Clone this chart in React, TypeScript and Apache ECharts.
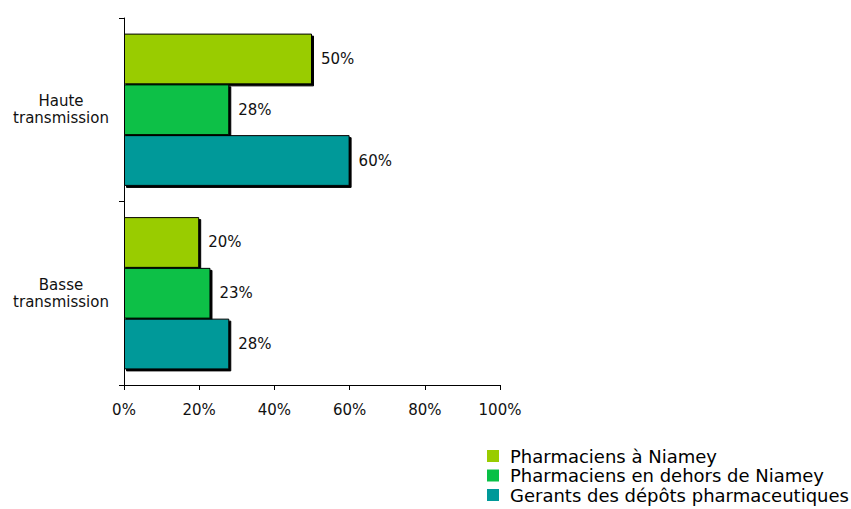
import React, { useEffect, useRef } from "react";
import * as echarts from "echarts";

const categories = ["Haute\ntransmission", "Basse\ntransmission"];
const seriesNames = [
  "Pharmaciens à Niamey",
  "Pharmaciens en dehors de Niamey",
  "Gerants des dépôts pharmaceutiques",
];
const pharmaNiamey = [50, 20];
const pharmaHors = [28, 23];
const gerants = [60, 28];
const xTicks = [0, 20, 40, 60, 80, 100];
const colors = ["#99CC00", "#08C046", "#009999"];

export default function App() {
  const ref = useRef<HTMLDivElement>(null);
  useEffect(() => {
    if (!ref.current) return;
    const chart = echarts.init(ref.current, null, { renderer: "svg" });
    const values = [pharmaNiamey, pharmaHors, gerants];
    const font = "'DejaVu Sans', sans-serif";
    chart.setOption({
      animation: false,
      textStyle: { fontFamily: font },
      grid: { left: 124, top: 18, width: 376, height: 367, containLabel: false },
      legend: {
        orient: "vertical",
        left: 487,
        top: 447,
        padding: 0,
        itemWidth: 12,
        itemHeight: 12,
        itemGap: 1.5,
        icon: "rect",
        itemStyle: { borderWidth: 0, shadowBlur: 0, shadowOffsetX: 0, shadowOffsetY: 0, shadowColor: "transparent" },
        textStyle: { fontSize: 18, lineHeight: 18, color: "#000", fontFamily: font, padding: [0, 0, 0, 6] },
        data: seriesNames,
      },
      xAxis: {
        type: "value",
        min: xTicks[0],
        max: xTicks[xTicks.length - 1],
        interval: 20,
        splitLine: { show: false },
        axisLine: { show: true, lineStyle: { color: "#000", width: 1 } },
        axisTick: { show: true, length: 5, lineStyle: { color: "#000" } },
        axisLabel: { formatter: "{value}%", color: "#111", fontSize: 15, margin: 17, fontFamily: font },
      },
      yAxis: {
        type: "category",
        inverse: true,
        data: categories,
        axisLine: { show: true, lineStyle: { color: "#000", width: 1 } },
        axisTick: { show: true, length: 5, lineStyle: { color: "#000" } },
        axisLabel: { color: "#111", fontSize: 15, margin: 63, lineHeight: 17, align: "center", fontFamily: font },
      },
      series: seriesNames.map((name, i) => ({
        name,
        type: "bar",
        data: values[i],
        barGap: "0%",
        barCategoryGap: "17%",
        itemStyle: {
          color: colors[i],
          borderColor: "#000",
          borderWidth: 1,
          shadowColor: "#000",
          shadowOffsetX: 2,
          shadowOffsetY: 2,
          shadowBlur: 0,
        },
        label: {
          show: true,
          position: "right",
          distance: 9,
          formatter: "{c}%",
          color: "#111",
          fontSize: 15,
          fontFamily: font,
        },
      })),
    });
    return () => chart.dispose();
  }, []);
  return (
    <div
      ref={ref}
      style={{ position: "fixed", left: 0, top: 0, width: 851, height: 509, background: "#fff" }}
    />
  );
}
